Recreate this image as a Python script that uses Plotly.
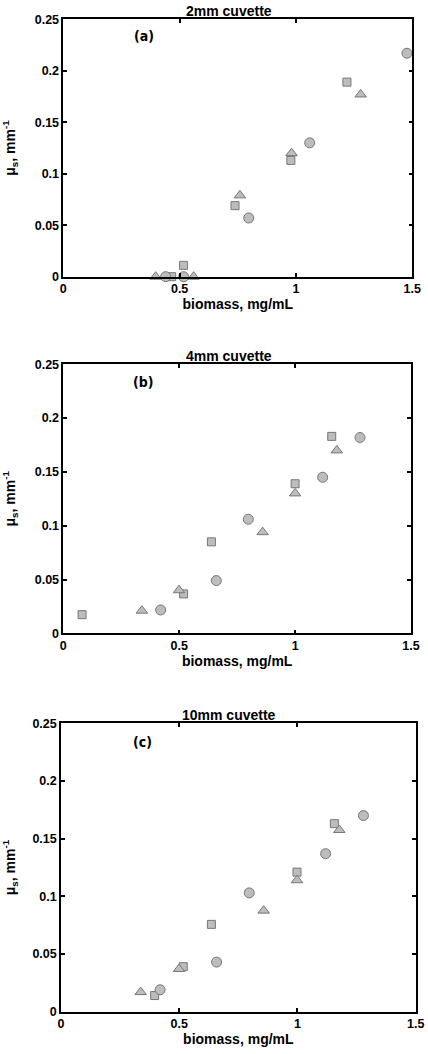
import plotly.graph_objects as go

# ---- data ----
titles = ["2mm cuvette", "4mm cuvette", "10mm cuvette"]
letters = ["(a)", "(b)", "(c)"]
x_label = "biomass, mg/mL"
y_label = "μ<sub>s</sub>, mm<sup>-1</sup>"

# panel (a)
a_sq_x = [0.466, 0.517, 0.738, 0.978, 1.219]
a_sq_y = [0.0, 0.011, 0.069, 0.113, 0.189]
a_tri_x = [0.397, 0.56, 0.759, 0.981, 1.278]
a_tri_y = [0.0, 0.0, 0.079, 0.120, 0.177]
a_cir_x = [0.44, 0.517, 0.797, 1.059, 1.477]
a_cir_y = [0.0, 0.0, 0.057, 0.130, 0.217]

# panel (b)
b_sq_x = [0.081, 0.519, 0.639, 1.0, 1.158]
b_sq_y = [0.0173, 0.0366, 0.085, 0.139, 0.183]
b_tri_x = [0.339, 0.499, 0.86, 1.0, 1.18]
b_tri_y = [0.021, 0.040, 0.094, 0.130, 0.170]
b_cir_x = [0.42, 0.66, 0.798, 1.119, 1.28]
b_cir_y = [0.0217, 0.049, 0.106, 0.145, 0.182]

# panel (c)
c_sq_x = [0.396, 0.517, 0.636, 0.998, 1.156]
c_sq_y = [0.014, 0.039, 0.0757, 0.121, 0.163]
c_tri_x = [0.337, 0.499, 0.857, 0.998, 1.177]
c_tri_y = [0.017, 0.037, 0.0876, 0.114, 0.1575]
c_cir_x = [0.419, 0.658, 0.796, 1.119, 1.279]
c_cir_y = [0.019, 0.043, 0.103, 0.137, 0.170]

x_ticks = [0, 0.5, 1, 1.5]
x_tick_text = ["0", "0.5", "1", "1.5"]
y_ticks = [0, 0.05, 0.1, 0.15, 0.2, 0.25]
y_tick_text = ["0", "0.05", "0.1", "0.15", "0.2", "0.25"]

panels = [
    (a_sq_x, a_sq_y, a_tri_x, a_tri_y, a_cir_x, a_cir_y),
    (b_sq_x, b_sq_y, b_tri_x, b_tri_y, b_cir_x, b_cir_y),
    (c_sq_x, c_sq_y, c_tri_x, c_tri_y, c_cir_x, c_cir_y),
]

W, H = 428, 1054
# pixel boxes (left, right, top, bottom)
boxes = [(63.3, 412.3, 19.3, 276.7), (63.3, 411.0, 364.3, 633.3), (61.0, 415.7, 723.3, 1011.7)]

FILL = "#bdbdbd"
EDGE = "#777777"
FONT = "Liberation Sans, Arial, sans-serif"
bold14 = dict(family=FONT, size=14, color="black", weight="bold")

fig = go.Figure()
layout = dict(width=W, height=H, margin=dict(l=0, r=0, t=0, b=0),
              paper_bgcolor="white", plot_bgcolor="white", showlegend=False)
annotations = []

for i, (sx, sy, tx, ty, cx, cy) in enumerate(panels):
    n = "" if i == 0 else str(i + 1)
    xa, ya = "x" + n, "y" + n
    for xs, ys, sym, size in [(sx, sy, "square", 8), (tx, ty, "triangle-up", 10), (cx, cy, "circle", 10)]:
        fig.add_trace(go.Scatter(x=xs, y=ys, mode="markers", xaxis=xa, yaxis=ya,
                                 marker=dict(symbol=sym, size=size, color=FILL,
                                             line=dict(color=EDGE, width=1)),
                                 cliponaxis=False))
    l, r, t, b = boxes[i]
    common = dict(showline=True, linecolor="black", linewidth=1.5, mirror="ticks",
                  ticks="inside", ticklen=4, tickwidth=1.5, tickcolor="black",
                  showgrid=False, zeroline=False, automargin=False,
                  tickfont=dict(family=FONT, size=12.5, color="black", weight="bold"))
    layout["xaxis" + n] = dict(domain=[l / W, r / W], anchor=ya, range=[0, 1.5],
                               tickvals=x_ticks, ticktext=x_tick_text, ticklabelstandoff=0,
                               title=dict(text=x_label, font=bold14, standoff=4), **common)
    layout["yaxis" + n] = dict(domain=[1 - b / H, 1 - t / H], anchor=xa, range=[0, 0.25],
                               tickvals=y_ticks, ticktext=y_tick_text, ticklabelstandoff=0,
                               title=dict(text=y_label, font=bold14, standoff=16), **common)
    # title
    annotations.append(dict(text=titles[i], xref="paper", yref="paper",
                            x=229 / W, y=1 - (t - 8.5) / H, xanchor="center", yanchor="middle",
                            showarrow=False, font=bold14))
    # panel letter
    annotations.append(dict(text=letters[i], xref=xa, yref=ya,
                            x=0.345, y=0.234, xanchor="center", yanchor="middle", showarrow=False,
                            font=dict(family="DejaVu Sans Condensed, DejaVu Sans", size=14,
                                      color="black", weight="bold")))

layout["annotations"] = annotations
fig.update_layout(**layout)
fig.write_html("out.html")
